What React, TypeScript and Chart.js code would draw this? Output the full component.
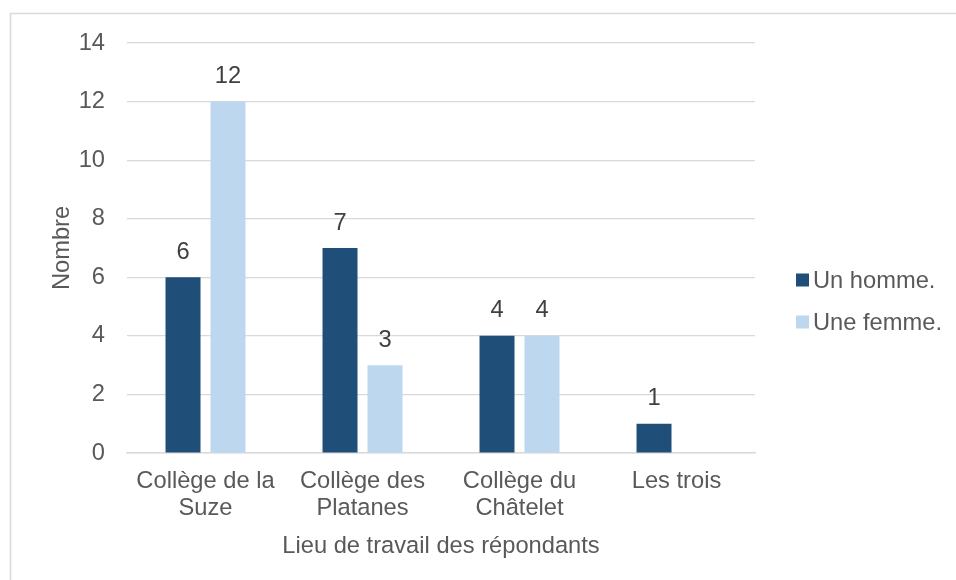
import React, { useEffect, useRef } from "react";
import { Chart, registerables } from "chart.js";

Chart.register(...registerables);

const categories: string[][] = [
  ["Collège de la", "Suze"],
  ["Collège des", "Platanes"],
  ["Collège du", "Châtelet"],
  ["Les trois"],
];
const hommes: (number | null)[] = [6, 7, 4, 1];
const femmes: (number | null)[] = [12, 3, 4, null];
const seriesNames = ["Un homme.", "Une femme."];
const seriesColors = ["#1f4e79", "#bdd7ee"];
const yTitle = "Nombre";
const xTitle = "Lieu de travail des répondants";

const FONT = "'Liberation Sans', Arial, sans-serif";
const FS = 23.7;
const TEXT = "#595959";

const framePlugin = {
  id: "frame",
  beforeDraw(chart: any) {
    const ctx = chart.ctx;
    ctx.save();
    ctx.fillStyle = "#ffffff";
    ctx.fillRect(0, 0, chart.width, chart.height);
    ctx.strokeStyle = "#d9d9d9";
    ctx.lineWidth = 1.5;
    ctx.strokeRect(10.5, 13.5, 2000, 2000);
    ctx.restore();
  },
};

const labelsPlugin = {
  id: "valueLabels",
  afterDatasetsDraw(chart: any) {
    const ctx = chart.ctx;
    ctx.save();
    ctx.font = `${FS}px ${FONT}`;
    ctx.fillStyle = "#404040";
    ctx.textAlign = "center";
    ctx.textBaseline = "middle";
    chart.data.datasets.forEach((ds: any, di: number) => {
      const meta = chart.getDatasetMeta(di);
      meta.data.forEach((bar: any, i: number) => {
        const v = ds.data[i];
        if (v === null || v === undefined) return;
        ctx.fillText(String(v), bar.x, bar.y - 25);
      });
    });
    ctx.restore();
  },
};

const legendPlugin = {
  id: "customLegend",
  afterDraw(chart: any) {
    const ctx = chart.ctx;
    ctx.save();
    ctx.font = `${FS}px ${FONT}`;
    ctx.textBaseline = "middle";
    ctx.textAlign = "left";
    const ys = [280, 322];
    chart.data.datasets.forEach((ds: any, i: number) => {
      const y = ys[i];
      ctx.fillStyle = ds.backgroundColor;
      ctx.fillRect(796, y - 6.5, 13, 13);
      ctx.fillStyle = TEXT;
      ctx.fillText(ds.label, 813, y + 1);
    });
    ctx.restore();
  },
};

export default function App() {
  const ref = useRef<HTMLCanvasElement>(null);
  useEffect(() => {
    if (!ref.current) return;
    const chart = new Chart(ref.current, {
      type: "bar",
      data: {
        labels: categories,
        datasets: [
          { label: seriesNames[0], data: hommes, backgroundColor: seriesColors[0] },
          { label: seriesNames[1], data: femmes, backgroundColor: seriesColors[1] },
        ],
      },
      options: {
        responsive: false,
        animation: false,
        layout: { padding: { left: 0, top: 43, right: 201, bottom: 0 } },
        datasets: {
          bar: { categoryPercentage: 0.573, barPercentage: 0.778 },
        },
        plugins: {
          legend: { display: false },
          tooltip: { enabled: false },
        },
        scales: {
          x: {
            grid: { display: false, drawTicks: false },
            border: { display: true, color: "#d9d9d9", width: 1.5 },
            ticks: {
              color: TEXT,
              font: { family: FONT, size: FS, lineHeight: "27px" },
              padding: 14.5,
              maxRotation: 0,
              autoSkip: false,
            },
            title: {
              display: true,
              text: xTitle,
              color: TEXT,
              font: { family: FONT, size: FS },
              padding: { top: 0, bottom: 19.8 },
            },
            afterFit: (s: any) => { s.height = 127; },
          },
          y: {
            min: 0,
            max: 14,
            ticks: {
              stepSize: 2,
              color: TEXT,
              font: { family: FONT, size: FS },
              padding: 22,
            },
            grid: { color: "#d9d9d9", lineWidth: 1.2, drawTicks: false },
            border: { display: false },
            title: {
              display: true,
              text: yTitle,
              color: TEXT,
              font: { family: FONT, size: FS },
              padding: { top: 47.8, bottom: 0 },
            },
            afterFit: (s: any) => { s.width = 127; },
          },
        },
      },
      plugins: [framePlugin, labelsPlugin, legendPlugin],
    });
    return () => chart.destroy();
  }, []);
  return (
    <div style={{ position: "fixed", left: 0, top: 0, width: 956, height: 580, background: "#fff" }}>
      <canvas ref={ref} width={956} height={580} style={{ display: "block" }} />
    </div>
  );
}
